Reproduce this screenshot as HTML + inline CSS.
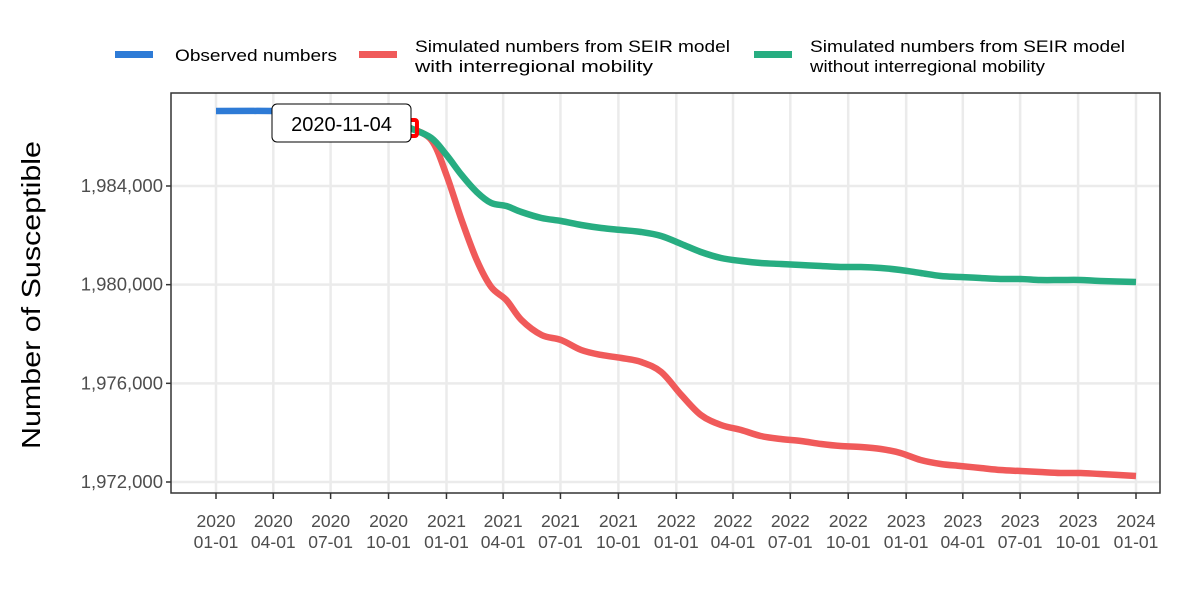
<!DOCTYPE html>
<html><head><meta charset="utf-8"><style>
body{margin:0;background:#fff;}
svg{display:block;font-family:"Liberation Sans",Arial,sans-serif;}
</style></head><body>
<svg id="chart" width="1200" height="600"></svg>
<script>
const obsDays=[0,90,200,308];
const obsValues=[1987040,1987040,1987000,1986400];
const simDays=[308,342,366,390,414,437,461,485,517,548,580,612,644,675,707,739,770,802,834,865,897,929,961,992,1024,1056,1087,1119,1151,1182,1214,1246,1278,1309,1341,1373,1404,1461];
const withMobility=[1986351,1985865,1984446,1982622,1981000,1979906,1979378,1978568,1977959,1977757,1977351,1977149,1977027,1976865,1976459,1975527,1974716,1974311,1974108,1973865,1973743,1973662,1973541,1973459,1973419,1973338,1973176,1972892,1972730,1972649,1972568,1972486,1972446,1972405,1972365,1972365,1972324,1972243];
const withoutMobility=[1986351,1985946,1985257,1984446,1983757,1983311,1983189,1982946,1982703,1982581,1982419,1982297,1982216,1982135,1981973,1981649,1981324,1981081,1980959,1980878,1980838,1980797,1980757,1980716,1980716,1980676,1980595,1980473,1980351,1980311,1980270,1980230,1980230,1980189,1980189,1980189,1980149,1980108];
const yTicks=[1972000,1976000,1980000,1984000];
const xTickDates=["2020-01-01","2020-04-01","2020-07-01","2020-10-01","2021-01-01","2021-04-01","2021-07-01","2021-10-01","2022-01-01","2022-04-01","2022-07-01","2022-10-01","2023-01-01","2023-04-01","2023-07-01","2023-10-01","2024-01-01"];
const markerDay=308, markerLabel="2020-11-04";

const NS="http://www.w3.org/2000/svg";
const svg=document.getElementById('chart');
const P={l:171,r:1160,t:93,b:493};
const X0=216, X1=1136, D1=1461;
const x=d=>X0+(d/D1)*(X1-X0);
const y=v=>482-(v-1972000)/4000*98.67;
const dayOf=s=>(Date.parse(s)-Date.parse("2020-01-01"))/86400000;
function mk(tag,attrs,parent){const e=document.createElementNS(NS,tag);for(const k in attrs)e.setAttribute(k,attrs[k]);(parent||svg).appendChild(e);return e;}

const grid=mk('g',{});


yTicks.forEach(v=>mk('line',{x1:P.l,x2:P.r,y1:y(v),y2:y(v),stroke:'#ebebeb','stroke-width':2.5},grid));
xTickDates.forEach(s=>{const xx=x(dayOf(s));mk('line',{x1:xx,x2:xx,y1:P.t,y2:P.b,stroke:'#ebebeb','stroke-width':2.5},grid);});

function smoothPath(pts){
  let d='M'+pts[0][0]+','+pts[0][1];
  for(let i=0;i<pts.length-1;i++){
    const p0=pts[i-1]||pts[i],p1=pts[i],p2=pts[i+1],p3=pts[i+2]||p2;
    const c1=[p1[0]+(p2[0]-p0[0])/6,p1[1]+(p2[1]-p0[1])/6];
    const c2=[p2[0]-(p3[0]-p1[0])/6,p2[1]-(p3[1]-p1[1])/6];
    d+=' C'+c1[0]+','+c1[1]+' '+c2[0]+','+c2[1]+' '+p2[0]+','+p2[1];
  }
  return d;
}
function line(days,vals,color,name){
  const p=mk('path',{d:smoothPath(days.map((d,i)=>[x(d),y(vals[i])])),fill:'none',stroke:color,'stroke-width':6.5,'stroke-linejoin':'round','stroke-linecap':'butt'});
  
  
}
line(obsDays,obsValues,'#2e7bd6','observed-line');
line(simDays,withMobility,'#f05a5a','with-mobility-line');
line(simDays,withoutMobility,'#27ad81','without-mobility-line');

const mx=x(markerDay), my=y(withMobility[0]);
const mr=mk('rect',{x:mx-7,y:my-8,width:14,height:16,rx:2,fill:'none',stroke:'#ff0000','stroke-width':4});


const lb=mk('g',{});


mk('rect',{x:272,y:104,width:139,height:38,rx:5,fill:'#fff',stroke:'#000','stroke-width':1},lb);
const lt=mk('text',{x:341.5,y:131,'text-anchor':'middle','font-size':20,fill:'#000'},lb);lt.textContent=markerLabel;

const frame=mk('rect',{x:P.l,y:P.t,width:P.r-P.l,height:P.b-P.t,fill:'none',stroke:'#333','stroke-width':1.5});



const ya=mk('g',{});


yTicks.forEach(v=>{mk('line',{x1:P.l-5,x2:P.l,y1:y(v),y2:y(v),stroke:'#333','stroke-width':1.5},ya);
  const t=mk('text',{x:P.l-8,y:y(v)+6,'text-anchor':'end','font-size':18.5,fill:'#4d4d4d'},ya);t.textContent=v.toLocaleString('en-US');});
const xa=mk('g',{});


xTickDates.forEach(s=>{const xx=x(dayOf(s));mk('line',{x1:xx,x2:xx,y1:P.b,y2:P.b+6,stroke:'#333','stroke-width':1.5},xa);
  const t=mk('text',{x:xx,y:527,'text-anchor':'middle','font-size':17.5,fill:'#4d4d4d'},xa);t.textContent=s.slice(0,4);
  const t2=mk('text',{x:xx,y:548,'text-anchor':'middle','font-size':17.5,fill:'#4d4d4d'},xa);t2.textContent=s.slice(5);});
const yt=mk('text',{x:0,y:0,transform:'translate(40,295) rotate(-90)','text-anchor':'middle','font-size':26,fill:'#000',textLength:308,lengthAdjust:'spacingAndGlyphs'});
yt.textContent='Number of Susceptible';



const lg=mk('g',{});


const entries=[[113,'#2e7bd6',['Observed numbers'],[162]],[357,'#f05a5a',['Simulated numbers from SEIR model','with interregional mobility'],[315,238]],[752,'#27ad81',['Simulated numbers from SEIR model','without interregional mobility'],[315,235]]];
entries.forEach(([ex,c,txt,lens])=>{
  const g=mk('g',{},lg);
  
  
  mk('rect',{x:ex+2,y:51,width:38,height:7,fill:c},g);
  if(txt.length===1){const t=mk('text',{x:ex+62,y:61,'font-size':17,fill:'#000',textLength:lens[0],lengthAdjust:'spacingAndGlyphs'},g);t.textContent=txt[0];}
  else txt.forEach((s,i)=>{const t=mk('text',{x:ex+58,y:52+i*20,'font-size':17,fill:'#000',textLength:lens[i],lengthAdjust:'spacingAndGlyphs'},g);t.textContent=s;});
});
</script>
</body></html>
